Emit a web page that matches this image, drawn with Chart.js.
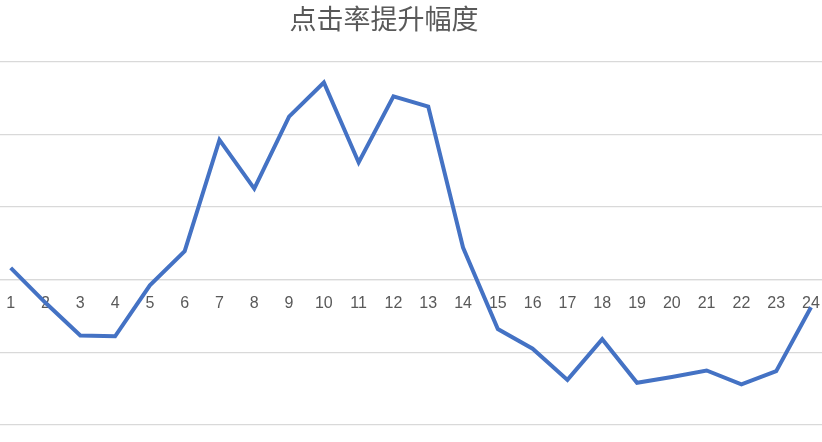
<!DOCTYPE html>
<html>
<head>
<meta charset="utf-8">
<script src="https://cdn.jsdelivr.net/npm/chart.js@4"></script>
<style>
  html, body { margin: 0; padding: 0; background: #fff; overflow: hidden; }
  #chart { position: absolute; left: -54px; top: 0; }
</style>
</head>
<body>
<canvas id="chart" width="876" height="442"></canvas>
<script>
const hours = [1, 2, 3, 4, 5, 6, 7, 8, 9, 10, 11, 12, 13, 14, 15, 16, 17, 18, 19, 20, 21, 22, 23, 24];
const lift = [0.16, -0.32, -0.77, -0.78, -0.08, 0.39, 1.92, 1.25, 2.24, 2.71, 1.61, 2.52, 2.38, 0.44,
  -0.68, -0.95, -1.38, -0.82, -1.42, -1.34, -1.25, -1.44, -1.26, -0.38];
const yTicks = [-2, -1, 0, 1, 2, 3];

const ctx = document.getElementById("chart").getContext("2d");

new Chart(ctx, {
  type: "line",
  data: {
    datasets: [{
      label: "点击率提升幅度",
      data: hours.map((h, i) => ({ x: h, y: lift[i] })),
      borderColor: "#4472C4",
      borderWidth: 4,
      pointRadius: 0,
      tension: 0,
      fill: false
    }]
  },
  options: {
    responsive: false,
    animation: false,
    layout: { autoPadding: false, padding: { top: 0, bottom: 17, left: 0, right: 0 } },
    plugins: {
      legend: { display: false },
      tooltip: { enabled: false },
      title: {
        display: true,
        text: "点击率提升幅度",
        color: "#595959",
        font: { family: "'Noto Sans CJK SC'", size: 27, weight: "normal" },
        padding: { top: 3, bottom: 26 }
      }
    },
    scales: {
      x: {
        type: "linear",
        bounds: "data",
        position: { y: 0 },
        min: -0.8594,
        max: 24.316,
        afterBuildTicks: s => { s.ticks = hours.map(v => ({ value: v })); },
        afterFit: s => { s.paddingLeft = 0; s.paddingRight = 0; },
        grid: { display: false, drawTicks: false },
        border: { display: true, color: "#d9d9d9", width: 1.2 },
        ticks: {
          autoSkip: false,
          maxRotation: 0,
          padding: 14,
          color: "#595959",
          font: { family: "'Liberation Sans'", size: 16 },
          callback: v => String(v)
        }
      },
      y: {
        min: yTicks[0],
        max: yTicks[yTicks.length - 1],
        afterBuildTicks: s => { s.ticks = yTicks.map(v => ({ value: v })); },
        afterFit: s => { s.width = 0; s.paddingTop = 0; s.paddingBottom = 0; },
        ticks: { display: false },
        border: { display: false },
        grid: { color: "#d9d9d9", lineWidth: 1.2, drawTicks: false }
      }
    }
  }
});
</script>
</body>
</html>
